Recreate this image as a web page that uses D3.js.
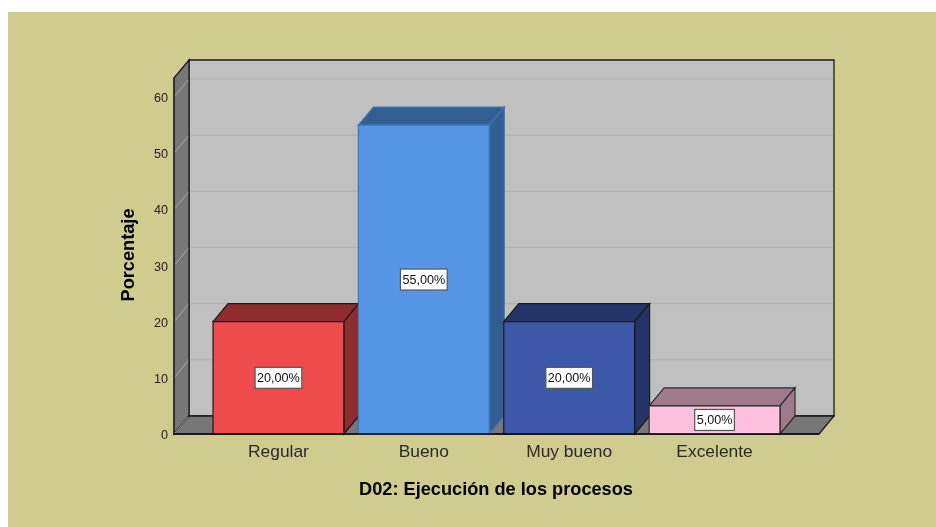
<!DOCTYPE html>
<html><head><meta charset="utf-8">
<script src="https://cdnjs.cloudflare.com/ajax/libs/d3/7.8.5/d3.min.js"></script>
<style>html,body{margin:0;padding:0;background:#fff}svg{display:block;filter:blur(0.35px)}text{font-family:"Liberation Sans",Arial,sans-serif}</style>
</head><body><svg id="c" width="936" height="527"></svg>
<script>
const categories = ["Regular","Bueno","Muy bueno","Excelente"];
const percentages = [20,55,20,5];
const valueLabels = ["20,00%","55,00%","20,00%","5,00%"];
const yTicks = [0,10,20,30,40,50,60];
const frontColors = ["#EF4B4D","#5596E6","#3D58A8","#FFBFDD"];
const sideColors = ["#8F2C2E","#335E92","#233568","#9F7A8A"];
const edgeColors = ["#1a1a1a","#3f74b5","#1a1a1a","#2a2a2a"];
const xTitle = "D02: Ejecución de los procesos";
const yTitle = "Porcentaje";

const svg = d3.select("#c");
const dx = 15, dy = -18;
const x0 = 174, x1 = 820, yBase = 434, yMaxPx = 78;
const y = d3.scaleLinear().domain([0,60]).range([yBase,97]);
const x = d3.scaleBand().domain(categories).range([198.5,794.5]).paddingInner(0.1).paddingOuter(0.1);
const poly = pts => pts.map(p=>p.join(",")).join(" ");

svg.append("rect").attr("x",8).attr("y",12).attr("width",928).attr("height",515).attr("fill","#D0CB8E");

// walls
svg.append("polygon").attr("points",poly([[x0+dx,yMaxPx+dy],[x1+dx-1,yMaxPx+dy],[x1+dx-1,yBase+dy],[x0+dx,yBase+dy]]))
  .attr("fill","#C0C0C0").attr("stroke","#1a1a1a").attr("stroke-width",1.3);
svg.append("polygon").attr("points",poly([[x0,yMaxPx],[x0+dx,yMaxPx+dy],[x0+dx,yBase+dy],[x0,yBase]]))
  .attr("fill","#777777").attr("stroke","#1a1a1a").attr("stroke-width",1.3);
svg.append("polygon").attr("points",poly([[x0,yBase],[x0+dx,yBase+dy],[x1+dx-1,yBase+dy],[x1-1,yBase]]))
  .attr("fill","#777777").attr("stroke","#1a1a1a").attr("stroke-width",1.3);

// gridlines
yTicks.forEach(t=>{
  if(t>0){
    svg.append("line").attr("x1",x0+dx+1).attr("x2",x1+dx-2).attr("y1",y(t)+dy).attr("y2",y(t)+dy).attr("stroke","#B0B0B0").attr("stroke-width",1.2);
  }
  svg.append("line").attr("x1",x0+1).attr("x2",x0+dx-1).attr("y1",y(t)-1).attr("y2",y(t)+dy+1).attr("stroke","#A8A8A8").attr("stroke-width",1);
});

// bars
const g = svg.selectAll("g.bar").data(categories).join("g").attr("class","bar");
g.each(function(c,i){
  const s = d3.select(this), l = x(c), r = l + x.bandwidth(), t = y(percentages[i]);
  const st = {stroke:edgeColors[i]};
  s.append("polygon").attr("points",poly([[l,t],[l+dx,t+dy],[r+dx,t+dy],[r,t]])).attr("fill",sideColors[i]).attr("stroke",st.stroke).attr("stroke-width",1.2);
  s.append("polygon").attr("points",poly([[r,t],[r+dx,t+dy],[r+dx,yBase+dy],[r,yBase]])).attr("fill",sideColors[i]).attr("stroke",st.stroke).attr("stroke-width",1.2);
  s.append("rect").attr("x",l).attr("y",t).attr("width",x.bandwidth()).attr("height",yBase-t).attr("fill",frontColors[i]).attr("stroke",st.stroke).attr("stroke-width",1.2);
  const cx = (l+r)/2, cy = (t+yBase)/2;
  const box = s.append("rect").attr("y",cy-10.5).attr("height",21)
    .attr("fill","#fff").attr("stroke","#555").attr("stroke-width",1.2);
  const lab = s.append("text").attr("x",cx).attr("y",cy+4.5).attr("text-anchor","middle").attr("font-size",12.6).attr("fill","#111").text(valueLabels[i]);
  const w = lab.node().getComputedTextLength() + 4;
  box.attr("x",cx-w/2).attr("width",w);
  s.append("text").attr("x",cx).attr("y",457).attr("text-anchor","middle").attr("font-size",17.4).attr("fill","#2a2a2a").text(c);
});

// axis baseline + labels
svg.append("line").attr("x1",x0).attr("x2",x1-1).attr("y1",yBase).attr("y2",yBase).attr("stroke","#111").attr("stroke-width",1.5);
svg.append("line").attr("x1",x0).attr("x2",x0).attr("y1",yMaxPx).attr("y2",yBase).attr("stroke","#222").attr("stroke-width",1.2);
svg.selectAll("text.tick").data(yTicks).join("text").attr("class","tick")
  .attr("x",168).attr("y",d=>y(d)+5).attr("text-anchor","end").attr("font-size",12.6).attr("fill","#222").text(d=>d);

svg.append("text").attr("x",496).attr("y",495).attr("text-anchor","middle").attr("font-size",18.2).attr("font-weight","bold").attr("fill","#000").text(xTitle);
svg.append("text").attr("transform","translate(134,255) rotate(-90)").attr("text-anchor","middle").attr("font-size",18.2).attr("font-weight","bold").attr("fill","#000").text(yTitle);
</script></body></html>
